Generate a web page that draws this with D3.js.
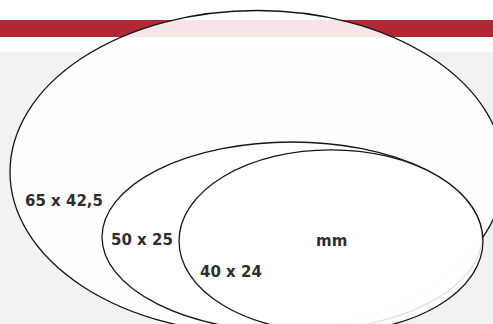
<!DOCTYPE html>
<html>
<head>
<meta charset="utf-8">
<script src="https://cdn.jsdelivr.net/npm/d3@7"></script>
<style>
  html, body { margin: 0; padding: 0; background: #fff; }
  svg { display: block; }
  .size-label { font-family: "DejaVu Sans", sans-serif; font-weight: bold; font-size: 15px; fill: #2e2e2e; }
</style>
</head>
<body>
<div id="chart"></div>
<script>
// label sizes in millimetres (width x height)
var labels = ["65 x 42,5", "50 x 25", "40 x 24"];
var widthsMm = [65, 50, 40];
var heightsMm = [42.5, 25, 24];
var unitLabel = "mm";

// *********************************************
// SETUP
// *********************************************
var width = 493, height = 324;
var svg = d3.select("#chart").append("svg")
    .attr("width", width)
    .attr("height", height);

// mm -> px
var mm = d3.scaleLinear().domain([0, 65]).range([0, 494]);

// where each oval sits, and where its caption goes
var centers = [[257, 172], [292, 237], [331, 241]];
var captionPos = [[25, 206], [111, 245], [200, 277]];

// background bands
svg.append("rect").attr("x", 0).attr("y", 0).attr("width", width).attr("height", height).attr("fill", "#ffffff");
svg.append("rect").attr("x", 0).attr("y", 20).attr("width", width).attr("height", 17).attr("fill", "#b32835");
svg.append("rect").attr("x", 0).attr("y", 52).attr("width", width).attr("height", height - 52).attr("fill", "#f1f2f4");

var shapes = labels.map(function(d, i) {
  return {label: d, w: widthsMm[i], h: heightsMm[i], cx: centers[i][0], cy: centers[i][1]};
});

// ovals, biggest first so smaller ones sit on top
svg.append("g").attr("id", "ovals")
  .selectAll("ellipse")
  .data(shapes)
  .enter()
  .append("ellipse")
    .attr("cx", function(d) { return d.cx; })
    .attr("cy", function(d) { return d.cy; })
    .attr("rx", function(d) { return mm(d.w) / 2; })
    .attr("ry", function(d) { return mm(d.h) / 2; })
    .style("fill", "#ffffff")
    .style("fill-opacity", 0.88)
    .style("stroke", "#161616")
    .style("stroke-width", 1.3);

// captions
svg.append("g").attr("id", "captions")
  .selectAll("text")
  .data(shapes)
  .enter()
  .append("text")
    .attr("class", "size-label")
    .attr("x", function(d, i) { return captionPos[i][0]; })
    .attr("y", function(d, i) { return captionPos[i][1]; })
    .text(function(d) { return d.label; });

svg.append("text")
  .attr("class", "size-label")
  .attr("x", 316)
  .attr("y", 246)
  .text(unitLabel);
</script>
</body>
</html>
